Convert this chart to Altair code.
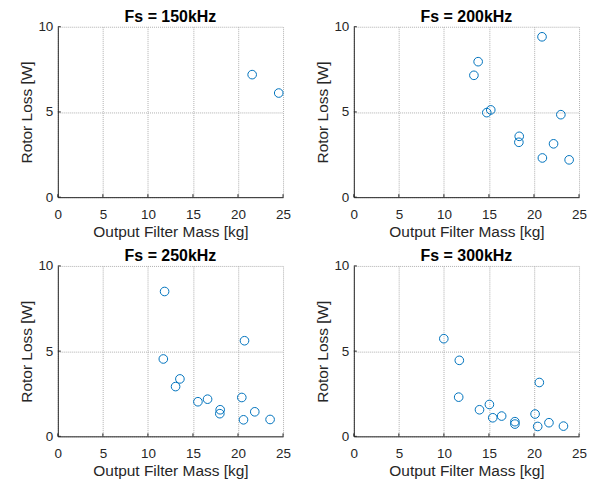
import altair as alt
import pandas as pd

titles = ["Fs = 150kHz", "Fs = 200kHz", "Fs = 250kHz", "Fs = 300kHz"]

x150 = [21.57, 24.52]
y150 = [7.19, 6.11]

x200 = [20.89, 13.80, 13.33, 14.76, 15.20, 22.98, 18.36, 18.32, 22.17, 20.93, 23.90]
y200 = [9.41, 7.95, 7.15, 4.96, 5.12, 4.84, 3.57, 3.22, 3.13, 2.30, 2.19]

x250 = [11.85, 11.71, 20.72, 13.55, 13.07, 15.55, 16.62, 18.02, 17.98, 20.42, 20.61, 21.86, 23.56]
y250 = [8.50, 4.54, 5.61, 3.37, 2.92, 2.03, 2.18, 1.56, 1.33, 2.28, 0.97, 1.44, 0.99]

x300 = [9.99, 11.71, 11.64, 20.59, 13.95, 15.05, 15.42, 16.41, 17.88, 17.88, 20.12, 20.41, 21.66, 23.27]
y300 = [5.73, 4.46, 2.30, 3.16, 1.56, 1.87, 1.09, 1.19, 0.86, 0.72, 1.31, 0.58, 0.80, 0.60]

x_ticks = [0, 5, 10, 15, 20, 25]
y_ticks = [0, 5, 10]

W, H = 226, 171
FONT = "Liberation Sans"
TXT = "#262626"


def panel(title, xs, ys):
    df = pd.DataFrame({"x": xs, "y": ys})
    xenc = alt.X("x:Q", title="Output Filter Mass [kg]",
                 scale=alt.Scale(domain=[0, 25], nice=False),
                 axis=alt.Axis(values=x_ticks, labelFlush=False))
    yenc = alt.Y("y:Q", title="Rotor Loss [W]",
                 scale=alt.Scale(domain=[0, 10], nice=False),
                 axis=alt.Axis(values=y_ticks, labelFlush=False))
    pts = alt.Chart(df).mark_point(shape="circle", filled=False, color="#0072BD",
                                   size=75, strokeWidth=1, opacity=1).encode(x=xenc, y=yenc)
    xt = alt.Chart(pd.DataFrame({"x": x_ticks})).mark_rule(color=TXT, strokeWidth=1).encode(
        x=xenc, y=alt.value(H), y2=alt.value(H - 3))
    yt = alt.Chart(pd.DataFrame({"y": y_ticks})).mark_rule(color=TXT, strokeWidth=1).encode(
        y=yenc, x=alt.value(0), x2=alt.value(3))
    return alt.layer(xt, yt, pts).properties(
        width=W, height=H,
        title=alt.TitleParams(title, frame="group", anchor="middle"))


p1 = panel(titles[0], x150, y150)
p2 = panel(titles[1], x200, y200)
p3 = panel(titles[2], x250, y250)
p4 = panel(titles[3], x300, y300)

chart = alt.vconcat(
    alt.hconcat(p1, p2, spacing=24),
    alt.hconcat(p3, p4, spacing=24),
    spacing=8,
).properties(
    padding={"left": 11, "top": 0, "right": 5, "bottom": 0},
    background="white",
).configure_view(stroke=None).configure_axis(
    domainColor=TXT, domainWidth=1, labelColor=TXT, labelFont=FONT,
    labelFontSize=13.5, titleFont=FONT, titleFontSize=15.5, titleFontWeight="normal",
    titleColor=TXT, ticks=False,
    grid=True, gridColor="#b0b0b0", gridDash=[1, 1], gridWidth=1,
).configure_axisX(
    labelPadding=10, titlePadding=4,
).configure_axisY(
    labelPadding=5, titlePadding=3,
).configure_title(
    font=FONT, fontSize=16, fontWeight="bold", color="#000000", offset=-5
)

chart.save("out.html", embed_options={"renderer": "svg", "actions": False})
